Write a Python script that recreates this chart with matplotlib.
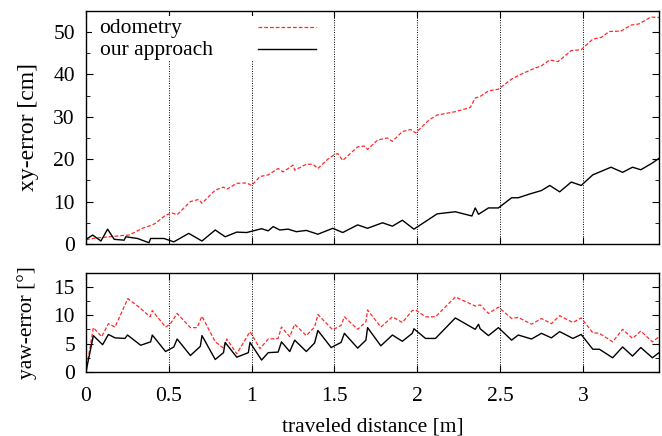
"""
Localization error along the traveled path: odometry vs. our approach.
"""

import matplotlib
matplotlib.use("Agg")
import matplotlib.pyplot as plt
from matplotlib.lines import Line2D
from matplotlib.patches import Rectangle
from matplotlib.ticker import MultipleLocator

# xy-error [cm]
odo_xy_dist = [0.0, 0.06, 0.22, 0.26, 0.34, 0.40, 0.42, 0.48, 0.52, 0.55, 0.63, 0.68, 0.70, 0.78, 0.83,
               0.85, 0.91, 0.97, 1.0, 1.05, 1.10, 1.16, 1.19, 1.25, 1.26, 1.33, 1.37, 1.40, 1.46, 1.50,
               1.52, 1.55, 1.64, 1.68, 1.70, 1.76, 1.82, 1.85, 1.91, 1.96, 1.99, 2.07, 2.12, 2.23, 2.32,
               2.35, 2.38, 2.43, 2.49, 2.57, 2.62, 2.70, 2.75, 2.80, 2.85, 2.93, 2.99, 3.06, 3.11, 3.16,
               3.23, 3.29, 3.34, 3.41, 3.46]
odo_xy = [1.0, 1.4, 2.0, 2.1, 3.7, 4.5, 4.9, 6.8, 7.3, 6.9, 10.0, 10.5, 9.6, 12.7, 13.4,
          12.9, 14.3, 14.4, 13.8, 15.9, 16.3, 17.8, 17.0, 18.6, 17.4, 18.8, 18.8, 17.8, 20.0, 21.1,
          21.3, 19.7, 22.9, 23.1, 22.3, 24.5, 25.0, 24.2, 26.5, 27.0, 26.2, 29.2, 30.4, 31.2, 32.2,
          34.4, 34.8, 36.1, 36.5, 38.9, 39.9, 41.3, 42.0, 43.4, 43.0, 45.6, 45.8, 48.3, 48.7, 50.1,
          50.2, 51.6, 51.9, 53.5, 53.4]

ours_xy_dist = [0.0, 0.04, 0.09, 0.13, 0.17, 0.23, 0.24, 0.31, 0.38, 0.39, 0.47, 0.53, 0.62, 0.70, 0.78,
                0.84, 0.91, 0.97, 1.06, 1.10, 1.13, 1.17, 1.22, 1.27, 1.33, 1.40, 1.49, 1.55, 1.64, 1.70,
                1.79, 1.85, 1.91, 1.98, 2.05, 2.12, 2.23, 2.33, 2.35, 2.37, 2.43, 2.49, 2.57, 2.61, 2.68,
                2.75, 2.80, 2.86, 2.93, 2.99, 3.06, 3.17, 3.24, 3.30, 3.35, 3.42, 3.46]
ours_xy = [1.1, 2.1, 0.7, 3.5, 1.1, 0.9, 1.7, 1.3, 0.3, 1.3, 1.3, 0.5, 2.5, 0.7, 3.3,
           1.7, 2.8, 2.7, 3.6, 3.1, 4.1, 3.3, 3.5, 2.9, 3.2, 2.3, 3.7, 2.7, 4.5, 3.7,
           5.0, 4.2, 5.6, 3.5, 5.3, 7.1, 7.6, 6.6, 8.5, 7.0, 8.5, 8.5, 10.9, 10.9, 11.8,
           12.6, 13.8, 12.3, 14.6, 13.8, 16.3, 18.1, 16.9, 18.1, 17.5, 19.1, 20.2]

# yaw-error [deg]
odo_yaw_dist = [0.0, 0.044, 0.094, 0.135, 0.175, 0.252, 0.316, 0.387, 0.40, 0.48, 0.51, 0.55, 0.63, 0.67, 0.70,
                0.78, 0.83, 0.85, 0.91, 0.99, 1.05, 1.10, 1.16, 1.18, 1.23, 1.26, 1.33, 1.38, 1.40, 1.49,
                1.54, 1.56, 1.64, 1.69, 1.70, 1.78, 1.85, 1.91, 1.97, 1.99, 2.05, 2.11, 2.23, 2.35, 2.38,
                2.43, 2.49, 2.57, 2.61, 2.69, 2.75, 2.81, 2.86, 2.94, 2.99, 3.06, 3.10, 3.18, 3.24, 3.30,
                3.35, 3.42, 3.46]
odo_yaw = [0.1, 7.8, 6.2, 8.5, 7.9, 12.9, 11.5, 9.7, 10.8, 7.9, 8.5, 10.3, 7.8, 7.8, 9.8,
           5.3, 4.2, 5.8, 3.2, 7.1, 4.1, 5.8, 5.9, 7.9, 6.2, 8.4, 6.4, 7.9, 10.1, 7.4,
           8.2, 9.7, 7.5, 8.8, 10.9, 7.9, 9.7, 8.7, 10.8, 10.9, 9.7, 9.7, 13.2, 11.6, 11.8,
           10.3, 11.4, 9.4, 9.6, 8.4, 9.4, 8.5, 9.9, 8.7, 9.5, 6.9, 6.8, 5.3, 7.5, 5.9,
           7.2, 5.3, 6.2]

ours_yaw_dist = [0.0, 0.044, 0.10, 0.135, 0.175, 0.235, 0.25, 0.33, 0.39, 0.40, 0.48, 0.53, 0.55, 0.63, 0.69,
                 0.70, 0.78, 0.83, 0.84, 0.91, 0.98, 0.99, 1.06, 1.10, 1.16, 1.18, 1.23, 1.26, 1.33, 1.38,
                 1.40, 1.48, 1.54, 1.56, 1.64, 1.69, 1.70, 1.78, 1.85, 1.91, 1.97, 1.98, 2.05, 2.11, 2.23,
                 2.35, 2.37, 2.38, 2.43, 2.49, 2.57, 2.61, 2.69, 2.75, 2.81, 2.86, 2.94, 2.99, 3.06, 3.10,
                 3.18, 3.24, 3.30, 3.35, 3.42, 3.46]
ours_yaw = [0.1, 6.4, 4.8, 6.6, 6.0, 5.9, 6.5, 4.7, 5.3, 6.5, 3.6, 4.4, 5.8, 2.9, 4.5,
            6.4, 2.2, 3.4, 5.2, 2.6, 3.4, 5.2, 2.1, 3.4, 3.5, 5.3, 3.6, 5.6, 3.6, 5.1,
            7.3, 4.3, 5.2, 6.8, 4.2, 5.6, 7.8, 4.6, 6.5, 5.4, 6.8, 7.6, 5.9, 5.9, 9.5,
            7.5, 8.4, 7.6, 6.4, 7.8, 5.6, 6.5, 5.8, 6.8, 6.0, 7.1, 5.9, 6.6, 4.0, 4.0,
            2.5, 4.4, 2.8, 4.3, 2.5, 3.4]

x_ticks = [0, 0.5, 1, 1.5, 2, 2.5, 3]
x_tick_labels = ["0", "0.5", "1", "1.5", "2", "2.5", "3"]
series_labels = ["odometry", "our approach"]

FS = 15.5
ODO_STYLE = dict(color="#ff2a2a", lw=0.9, dashes=(3, 1.6))
OURS_STYLE = dict(color="black", lw=1.0)


def _style_axes(ax, ymax, ymajor, yminor):
    ax.set_xlim(0, 3.46)
    ax.set_ylim(0, ymax)
    ax.set_xticks(x_ticks)
    ax.yaxis.set_major_locator(MultipleLocator(ymajor))
    ax.yaxis.set_minor_locator(MultipleLocator(yminor))
    ax.tick_params(which="both", direction="in", top=True, right=True, labelsize=FS)
    ax.tick_params(which="major", length=5)
    ax.tick_params(which="minor", length=3)
    ax.tick_params(axis="y", pad=8)
    ax.grid(axis="x", color="black", linestyle=(0, (1, 1.5)), linewidth=0.7)
    for s in ax.spines.values():
        s.set_linewidth(1.0)


def _gnuplot_key(ax, styles):
    # gnuplot-like key: left-aligned labels, samples on the right, opaque box
    ax.add_patch(Rectangle((0.01, 0.789), 0.41, 0.188, transform=ax.transAxes,
                           facecolor="white", edgecolor="none", zorder=3))
    rows = [0.930, 0.836]
    for label, style, y in zip(series_labels, styles, rows):
        ax.text(0.0235, y - 0.008, label, transform=ax.transAxes, fontsize=FS,
                ha="left", va="center", zorder=4)
        ax.add_line(Line2D([0.300, 0.401], [y, y], transform=ax.transAxes,
                           zorder=4, **style))


def main():
    plt.rcParams["font.family"] = ["Liberation Serif", "DejaVu Serif"]

    fig = plt.figure(figsize=(6.62, 4.36), dpi=100)
    ax1 = fig.add_axes([0.130, 0.4404, 0.8655, 0.535])
    ax2 = fig.add_axes([0.130, 0.1468, 0.8655, 0.227])

    ax1.plot(odo_xy_dist, odo_xy, **ODO_STYLE)
    ax1.plot(ours_xy_dist, ours_xy, **OURS_STYLE)
    _style_axes(ax1, 55, 10, 5)
    ax1.set_xticklabels([])
    ax1.set_ylabel("xy-error [cm]", fontsize=17, labelpad=10)
    _gnuplot_key(ax1, [ODO_STYLE, OURS_STYLE])

    ax2.plot(odo_yaw_dist, odo_yaw, **ODO_STYLE)
    ax2.plot(ours_yaw_dist, ours_yaw, **OURS_STYLE)
    _style_axes(ax2, 17.4, 5, 2.5)
    ax2.set_xticklabels(x_tick_labels)
    ax2.tick_params(axis="x", pad=11)
    ax2.set_ylabel("yaw-error [°]", fontsize=FS, labelpad=12)
    ax2.set_xlabel("traveled distance [m]", fontsize=FS, labelpad=8)

    fig.savefig("out.png", dpi=100)
    plt.close(fig)


if __name__ == "__main__":
    main()
